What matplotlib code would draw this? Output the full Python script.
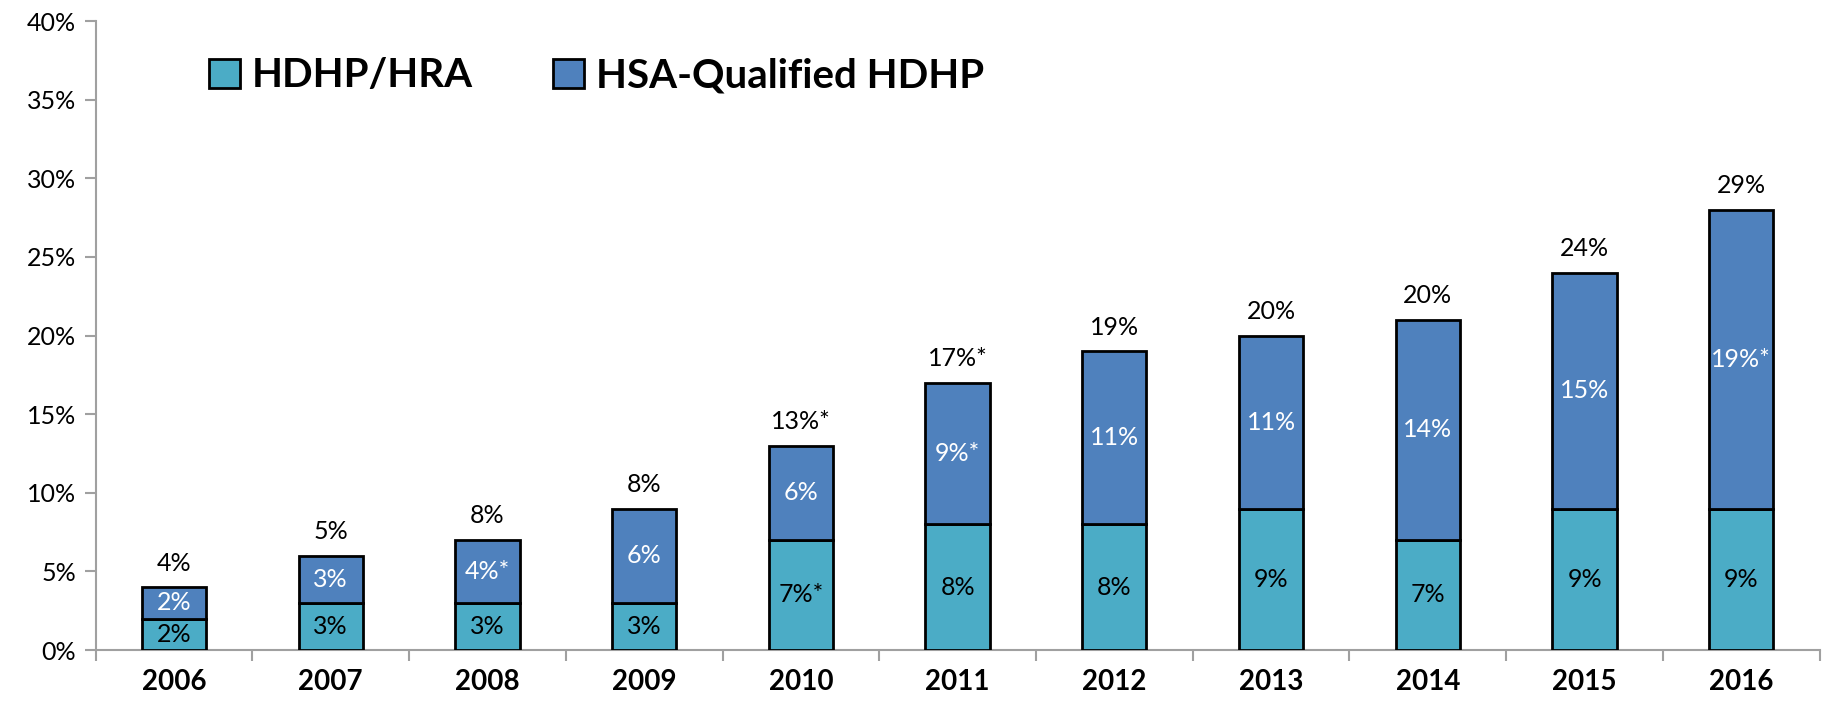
import matplotlib
matplotlib.use("Agg")
import matplotlib.pyplot as plt
from matplotlib.patches import Patch
import numpy as np

plt.rcParams['font.family'] = ['Lato', 'DejaVu Sans']

years = ["2006", "2007", "2008", "2009", "2010", "2011", "2012", "2013", "2014", "2015", "2016"]
hra = [2, 3, 3, 3, 7, 8, 8, 9, 7, 9, 9]
hsa = [2, 3, 4, 6, 6, 9, 11, 11, 14, 15, 19]
hra_labels = ["2%", "3%", "3%", "3%", "7%*", "8%", "8%", "9%", "7%", "9%", "9%"]
hsa_labels = ["2%", "3%", "4%*", "6%", "6%", "9%*", "11%", "11%", "14%", "15%", "19%*"]
total_labels = ["4%", "5%", "8%", "8%", "13%*", "17%*", "19%", "20%", "20%", "24%", "29%"]
yticks = [0, 5, 10, 15, 20, 25, 30, 35, 40]
series_names = ["HDHP/HRA", "HSA-Qualified HDHP"]

c_hra = "#4BACC6"
c_hsa = "#4F81BD"

fig = plt.figure(figsize=(18.27, 7.05), dpi=100)
ax = fig.add_axes([0.0523, 0.078, 0.9437, 0.892])

x = np.arange(len(years))
w = 0.41
ax.bar(x, hra, w, color=c_hra, edgecolor="black", linewidth=2, zorder=3)
ax.bar(x, hsa, w, bottom=hra, color=c_hsa, edgecolor="black", linewidth=2, zorder=3)

for i in range(len(years)):
    ax.text(x[i], hra[i] / 2, hra_labels[i], ha="center", va="center", fontsize=18, color="black", zorder=4)
    ax.text(x[i], hra[i] + hsa[i] / 2, hsa_labels[i], ha="center", va="center", fontsize=18, color="white", zorder=4)
    ax.text(x[i], hra[i] + hsa[i] + 0.8, total_labels[i], ha="center", va="bottom", fontsize=18, color="black", zorder=4)

ax.set_xlim(-0.5, len(years) - 0.5)
ax.set_ylim(0, 40)
ax.set_yticks(yticks)
ax.set_yticklabels([f"{t}%" for t in yticks], fontsize=18)
ax.set_xticks(x)
ax.set_xticklabels(years, fontsize=20, fontweight="bold")
ax.tick_params(axis="x", length=0, pad=14)
ax.set_xticks(np.arange(-0.5, len(years)), minor=True)
ax.tick_params(axis="x", which="minor", length=8, color="#A0A0A0", width=1.5)
ax.tick_params(axis="y", length=8, color="#A0A0A0", width=1.5, pad=6)

for s in ["top", "right"]:
    ax.spines[s].set_visible(False)
for s in ["left", "bottom"]:
    ax.spines[s].set_color("#A0A0A0")
    ax.spines[s].set_linewidth(1.5)

handles = [Patch(facecolor=c_hra, edgecolor="black", linewidth=2),
           Patch(facecolor=c_hsa, edgecolor="black", linewidth=2)]
leg = ax.legend(handles, series_names, loc="upper left", bbox_to_anchor=(0.045, 1.0),
                ncol=2, frameon=False, prop={"weight": "bold", "size": 29},
                handlelength=0.75, handleheight=0.75, handletextpad=0.3, columnspacing=2.0)

fig.savefig("out.png", dpi=100)
